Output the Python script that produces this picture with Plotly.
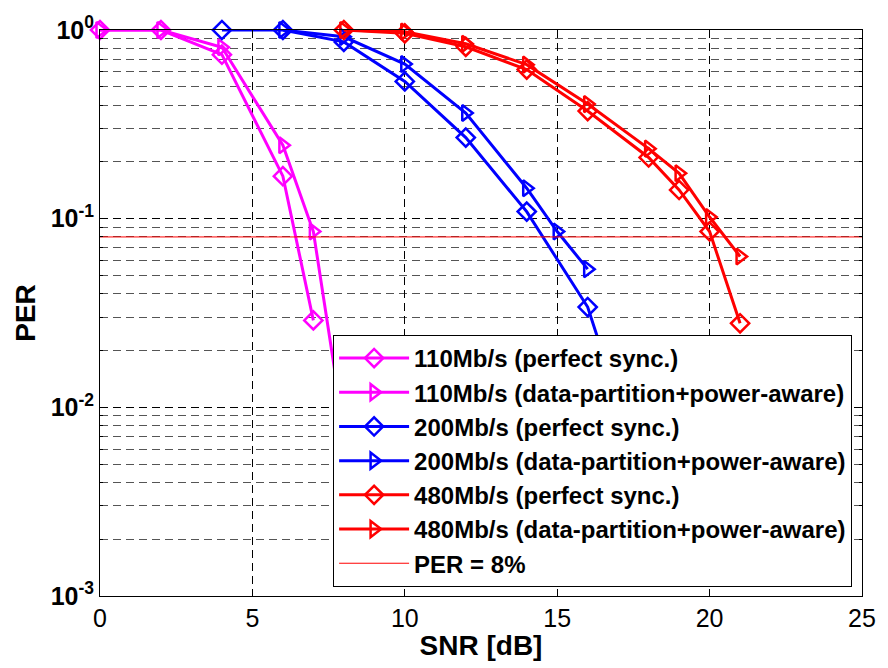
import plotly.graph_objects as go

# SNR (dB) / PER pairs for each data rate and receiver configuration
snr_110_sync = [0, 2, 4, 6, 7]
per_110_sync = [1.0, 1.0, 0.74, 0.168, 0.0289]

snr_110_dp = [0, 2, 4, 6, 7, 8]
per_110_dp = [1.0, 1.0, 0.81, 0.245, 0.0855, 0.0076]

snr_200_sync = [4, 6, 8, 10, 12, 14, 16, 17]
per_200_sync = [1.0, 1.0, 0.865, 0.534, 0.269, 0.109, 0.034, 0.0108]

snr_200_dp = [6, 8, 10, 12, 14, 15, 16]
per_200_dp = [1.0, 0.92, 0.66, 0.363, 0.145, 0.0855, 0.054]

snr_480_sync = [8, 10, 12, 14, 16, 18, 19, 20, 21]
per_480_sync = [1.0, 0.96, 0.815, 0.617, 0.372, 0.211, 0.142, 0.0855, 0.0279]

snr_480_dp = [8, 10, 12, 14, 16, 18, 19, 20, 21]
per_480_dp = [1.0, 0.98, 0.845, 0.655, 0.405, 0.235, 0.174, 0.102, 0.063]

per_threshold = 0.08
snr_range = [0, 25]

x_ticks = [0, 5, 10, 15, 20, 25]
y_decades = [1e-3, 1e-2, 1e-1, 1e0]
y_decade_labels = ["10<sup>-3</sup>", "10<sup>-2</sup>", "10<sup>-1</sup>", "10<sup>0</sup>"]
y_minor = [m * d for d in [1e-3, 1e-2, 1e-1] for m in range(2, 10)]

MAGENTA = "#FF00FF"
BLUE = "#0000FF"
RED = "#FF0000"
FONT = "Liberation Sans, Arial, sans-serif"

series = [
    (snr_110_sync, per_110_sync, "110Mb/s (perfect sync.)", MAGENTA, "diamond-open"),
    (snr_110_dp, per_110_dp, "110Mb/s (data-partition+power-aware)", MAGENTA, "triangle-right-open"),
    (snr_200_sync, per_200_sync, "200Mb/s (perfect sync.)", BLUE, "diamond-open"),
    (snr_200_dp, per_200_dp, "200Mb/s (data-partition+power-aware)", BLUE, "triangle-right-open"),
    (snr_480_sync, per_480_sync, "480Mb/s (perfect sync.)", RED, "diamond-open"),
    (snr_480_dp, per_480_dp, "480Mb/s (data-partition+power-aware)", RED, "triangle-right-open"),
]

fig = go.Figure()
for x, y, name, color, symbol in series:
    fig.add_trace(go.Scatter(
        x=x, y=y, name=f"<b>{name}</b>", mode="lines+markers",
        line=dict(color=color, width=3),
        marker=dict(symbol=symbol, size=14, color=color, line=dict(color=color, width=2.5)),
        cliponaxis=False,
    ))

fig.add_trace(go.Scatter(
    x=snr_range, y=[per_threshold, per_threshold], name="<b>PER = 8%</b>", mode="lines",
    line=dict(color=RED, width=1),
))

fig.update_layout(
    width=888, height=668,
    margin=dict(l=100, r=19, t=28, b=67),
    paper_bgcolor="white", plot_bgcolor="white",
    font=dict(family=FONT, size=25, color="black"),
    showlegend=True,
    legend=dict(
        x=0.987, y=0.016, xanchor="right", yanchor="bottom",
        bgcolor="white", bordercolor="black", borderwidth=1,
        font=dict(family=FONT, size=24, color="black"),
        itemwidth=70, tracegroupgap=0,
    ),
)

fig.update_xaxes(
    range=snr_range, tickvals=x_ticks,
    title=dict(text="<b>SNR [dB]</b>", font=dict(size=28), standoff=4),
    tickfont=dict(size=25, family=FONT),
    showline=True, linecolor="black", linewidth=1, mirror="ticks",
    ticks="inside", ticklen=6, tickcolor="black",
    showgrid=True, gridcolor="black", gridwidth=1, griddash="8px,5px",
    zeroline=False,
    tickprefix="<b>", ticksuffix="</b>",
)

fig.update_yaxes(
    type="log", range=[-3, 0],
    tickvals=y_decades, ticktext=[f"<b>{t}</b>" for t in y_decade_labels],
    title=dict(text="<b>PER</b>", font=dict(size=28), standoff=6),
    tickfont=dict(size=25, family=FONT),
    showline=True, linecolor="black", linewidth=1, mirror="ticks",
    ticks="inside", ticklen=6, tickcolor="black",
    showgrid=True, gridcolor="black", gridwidth=1, griddash="8px,5px",
    minor=dict(
        tickvals=y_minor, ticks="inside", ticklen=3, tickcolor="black",
        showgrid=True, gridcolor="#555555", gridwidth=1, griddash="8px,5px",
    ),
    zeroline=False,
)

fig.write_html("out.html")
